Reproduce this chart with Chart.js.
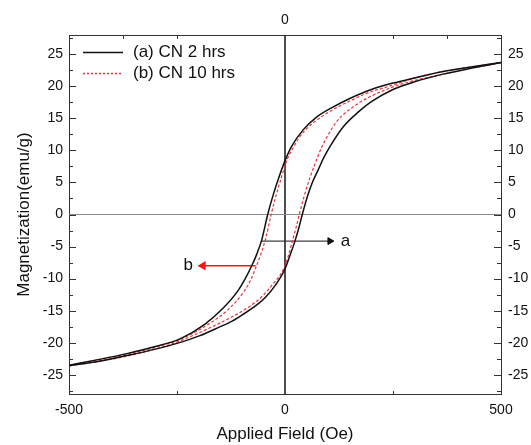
<!DOCTYPE html>
<html>
<head>
<meta charset="utf-8">
<script src="https://cdn.jsdelivr.net/npm/chart.js@4.4.0/dist/chart.umd.min.js"></script>
<style>
  html, body { margin: 0; padding: 0; background: #fff; }
</style>
</head>
<body>
<canvas id="loop" width="531" height="445"></canvas>
<script>
// (a) CN 2 hrs - descending branch, stored by increasing field
const fieldA_down = [-500, -430, -366, -300, -243, -185, -143, -110, -92, -77, -66, -54, -40, -28, -15, 0, 15, 42, 73, 112, 150, 200, 250, 300, 366, 430, 500];
const magA_down = [-23.5, -22.6, -21.7, -20.6, -19.4, -17.1, -14.6, -12.0, -10.0, -8.0, -6.3, -4.0, 0, 2.9, 5.6, 8.4, 10.6, 13.2, 15.2, 16.8, 18.1, 19.5, 20.5, 21.3, 22.3, 23.0, 23.7];
// (a) CN 2 hrs - ascending branch
const fieldA_up = [-500, -430, -366, -300, -250, -197, -150, -127, -100, -69, -45, -23, 0, 12, 23, 32, 40, 52, 64, 77, 90, 104, 135, 170, 200, 250, 300, 366, 430, 500];
const magA_up = [-23.6, -22.9, -22.0, -21.0, -20.1, -18.9, -17.5, -16.8, -15.7, -14.3, -12.9, -11.1, -8.5, -6.3, -4.15, -2.1, 0, 2.85, 5.1, 7.0, 8.9, 10.6, 13.7, 16.0, 17.6, 19.5, 20.7, 21.9, 22.8, 23.7];

// (b) CN 10 hrs
const fieldB_down = [-500, -430, -366, -300, -240, -177, -131, -96, -80, -66, -56, -45, -32, -21, -10, 5, 18, 31, 45, 69, 112, 150, 189, 250, 300, 366, 430, 500];
const magB_down = [-23.6, -22.7, -21.8, -20.7, -19.4, -17.1, -14.8, -12.1, -10.3, -8.0, -6.2, -3.8, 0, 2.9, 5.4, 8.6, 10.3, 11.8, 13.0, 14.5, 16.4, 17.7, 18.9, 20.2, 21.3, 22.3, 23.0, 23.7];
const fieldB_up = [-500, -430, -366, -300, -250, -197, -147, -110, -81, -55, -31, -4, 8, 17, 25, 33, 45, 57, 69, 83, 98, 121, 158, 189, 250, 300, 366, 430, 500];
const magB_up = [-23.6, -22.9, -22.1, -21.0, -19.9, -18.4, -16.8, -15.5, -14.3, -12.9, -11.1, -8.6, -6.4, -4.15, -2.2, 0, 3.0, 5.6, 7.8, 10.2, 12.2, 14.6, 16.8, 18.1, 19.9, 20.9, 21.9, 22.8, 23.7];

// annotation arrows (field, magnetization)
const arrowA_field = [-54, 104];
const arrowA_mag = [-4.15, -4.15];
const arrowB_field = [-68, -190];
const arrowB_mag = [-8.0, -8.0];
const noteLabels = ['a', 'b'];
const noteField = [140, -224];
const noteMag = [-4.15, -8.0];

// axes
const yTicks = [-25, -20, -15, -10, -5, 0, 5, 10, 15, 20, 25];
const yMinorTicks = [-27.5, -22.5, -17.5, -12.5, -7.5, -2.5, 2.5, 7.5, 12.5, 17.5, 22.5, 27.5];
const xBottomTicks = [-500, 0, 500];
const xTopTicks = [0];
const xBottomMinor = [-250, 250];
const xTopMinor = [-375, -250, 250, 375];
const legendNames = ['(a) CN 2 hrs', '(b) CN 10 hrs'];

const FONT = "'Liberation Sans', Arial, sans-serif";
const pts = (xs, ys) => xs.map((x, i) => ({ x: x, y: ys[i] }));

// Origin-style ticks pointing into the plot
const inwardTicks = {
  id: 'inwardTicks',
  afterDatasetsDraw(chart) {
    const { ctx, chartArea: a, scales } = chart;
    ctx.save();
    ctx.strokeStyle = '#333';
    ctx.lineWidth = 1;
    const seg = (x1, y1, x2, y2) => { ctx.beginPath(); ctx.moveTo(x1, y1); ctx.lineTo(x2, y2); ctx.stroke(); };
    yTicks.forEach(v => {
      const y = Math.round(scales.y.getPixelForValue(v)) + 0.5;
      seg(a.left, y, a.left + 7, y);
      seg(a.right, y, a.right - 7, y);
    });
    yMinorTicks.forEach(v => {
      const y = Math.round(scales.y.getPixelForValue(v)) + 0.5;
      seg(a.left, y, a.left + 4, y);
      seg(a.right, y, a.right - 4, y);
    });
    xBottomMinor.forEach(v => {
      const x = Math.round(scales.x.getPixelForValue(v)) + 0.5;
      seg(x, a.bottom, x, a.bottom - 3);
    });
    xTopMinor.forEach(v => {
      const x = Math.round(scales.x.getPixelForValue(v)) + 0.5;
      seg(x, a.top, x, a.top + 4);
    });
    ctx.restore();
  }
};

const notesAndLegend = {
  id: 'notesAndLegend',
  afterDraw(chart) {
    const { ctx, chartArea: a, scales } = chart;
    ctx.save();
    ctx.font = '17px ' + FONT;
    ctx.fillStyle = '#111';
    ctx.textBaseline = 'middle';
    ctx.textAlign = 'center';
    noteLabels.forEach((t, i) => {
      ctx.fillText(t, scales.x.getPixelForValue(noteField[i]), scales.y.getPixelForValue(noteMag[i]));
    });
    // legend, top left inside the frame
    const ds = chart.data.datasets;
    const entries = [ds[0], ds[2]];
    ctx.textAlign = 'left';
    entries.forEach((d, i) => {
      const y = a.top + 17 + i * 21;
      ctx.strokeStyle = d.borderColor;
      ctx.lineWidth = 1.5;
      ctx.setLineDash(d.borderDash ? [2, 2] : []);
      ctx.beginPath();
      ctx.moveTo(a.left + 14, y + 0.5);
      ctx.lineTo(a.left + 54, y + 0.5);
      ctx.stroke();
      ctx.setLineDash([]);
      ctx.fillText(legendNames[i], a.left + 64, y);
    });
    ctx.restore();
  }
};

const lineA = { borderColor: '#111', borderWidth: 1.5, pointRadius: 0, cubicInterpolationMode: 'monotone', showLine: true, fill: false };
const lineB = { borderColor: '#e8343a', borderWidth: 1.2, borderDash: [3, 2], pointRadius: 0, cubicInterpolationMode: 'monotone', showLine: true, fill: false };

new Chart(document.getElementById('loop'), {
  type: 'scatter',
  data: {
    datasets: [
      Object.assign({ label: legendNames[0], data: pts(fieldA_down, magA_down) }, lineA),
      Object.assign({ label: legendNames[0], data: pts(fieldA_up, magA_up) }, lineA),
      Object.assign({ label: legendNames[1], data: pts(fieldB_down, magB_down) }, lineB),
      Object.assign({ label: legendNames[1], data: pts(fieldB_up, magB_up) }, lineB),
      { label: 'zeroH', data: pts([-500, 500], [0, 0]), showLine: true, borderColor: '#8a8a8a', borderWidth: 1, pointRadius: 0 },
      { label: 'zeroV', data: pts([0, 0], [-28, 28]), showLine: true, borderColor: '#222', borderWidth: 1.6, pointRadius: 0 },
      { label: 'arrowA', data: pts(arrowA_field, arrowA_mag), showLine: true, borderColor: '#111', backgroundColor: '#111', borderWidth: 1,
        pointRadius: [0, 4], pointStyle: 'triangle', rotation: 90 },
      { label: 'arrowB', data: pts(arrowB_field, arrowB_mag), showLine: true, borderColor: '#f01818', backgroundColor: '#f01818', borderWidth: 1.5,
        pointRadius: [0, 4], pointStyle: 'triangle', rotation: -90 }
    ]
  },
  options: {
    responsive: false,
    animation: false,
    devicePixelRatio: 1,
    layout: { padding: 0 },
    plugins: { legend: { display: false }, tooltip: { enabled: false } },
    scales: {
      x: {
        type: 'linear', position: 'bottom', min: -500, max: 500,
        afterBuildTicks: s => { s.ticks = xBottomTicks.map(v => ({ value: v })); },
        afterFit: s => { s.height = 51; },
        grid: { display: false, drawTicks: false },
        border: { display: true, color: '#333', width: 1 },
        ticks: { padding: 8, color: '#111', font: { family: FONT, size: 14 } },
        title: { display: true, text: 'Applied Field (Oe)', color: '#111', font: { family: FONT, size: 17 }, padding: { top: 0, bottom: 0 } }
      },
      x2: {
        type: 'linear', position: 'top', min: -500, max: 500,
        afterBuildTicks: s => { s.ticks = xTopTicks.map(v => ({ value: v })); },
        afterFit: s => { s.height = 35; },
        grid: { display: false, drawTicks: false },
        border: { display: true, color: '#333', width: 1 },
        ticks: { padding: 6, color: '#111', font: { family: FONT, size: 14 } }
      },
      y: {
        type: 'linear', position: 'left', min: -28, max: 28,
        afterBuildTicks: s => { s.ticks = yTicks.map(v => ({ value: v })); },
        afterFit: s => { s.width = 69; },
        grid: { display: false, drawTicks: false },
        border: { display: true, color: '#333', width: 1 },
        ticks: { padding: 6, color: '#111', font: { family: FONT, size: 14 } },
        title: { display: true, text: 'Magnetization(emu/g)', color: '#111', font: { family: FONT, size: 17 }, padding: { top: 14, bottom: 0 } }
      },
      y2: {
        type: 'linear', position: 'right', min: -28, max: 28,
        afterBuildTicks: s => { s.ticks = yTicks.map(v => ({ value: v })); },
        afterFit: s => { s.width = 30; },
        grid: { display: false, drawTicks: false },
        border: { display: true, color: '#333', width: 1 },
        ticks: { padding: 7, color: '#111', font: { family: FONT, size: 14 } }
      }
    }
  },
  plugins: [inwardTicks, notesAndLegend]
});
</script>
</body>
</html>
